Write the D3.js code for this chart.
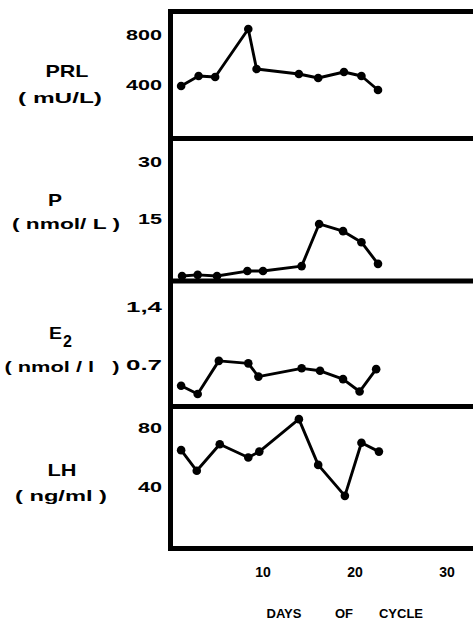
<!DOCTYPE html>
<html>
<head>
<meta charset="utf-8">
<script src="https://cdn.jsdelivr.net/npm/d3@7"></script>
<style>
  body { margin: 0; background: #fff; }
  text { font-family: "Liberation Sans", Arial, sans-serif; fill: #000; }
</style>
</head>
<body>
<div id="chart"></div>
<script>
// days of cycle for each hormone series
var prlDays = [1.1, 3.0, 4.8, 8.4, 9.3, 13.9, 16.0, 18.8, 20.7, 22.5];
var prlValues = [392, 472, 464, 848, 528, 488, 456, 504, 472, 360];

var pDays = [1.2, 2.9, 5.0, 8.3, 10.0, 14.2, 16.1, 18.7, 20.7, 22.5];
var pValues = [0, 0.3, 0, 1.3, 1.3, 2.6, 13.7, 11.8, 8.9, 3.2];

var e2Days = [1.1, 2.9, 5.2, 8.4, 9.5, 14.2, 16.2, 18.7, 20.5, 22.3];
var e2Values = [0.45, 0.35, 0.75, 0.72, 0.56, 0.66, 0.63, 0.53, 0.38, 0.65];

var lhDays = [1.1, 2.8, 5.3, 8.4, 9.6, 13.9, 16.0, 18.9, 20.7, 22.6];
var lhValues = [65, 51, 69, 60, 64, 86, 55, 34, 70, 64];

// tick labels
var dayTicks = [10, 20, 30];
var prlTicks = [400, 800];
var pTicks = [15, 30];
var e2Ticks = [0.7, 1.4];
var e2TickLabels = ["0.7", "1,4"];
var lhTicks = [40, 80];

var width = 473, height = 620;

var svg = d3.select("#chart")
  .append("svg")
  .attr("width", width)
  .attr("height", height);

// shared day axis
var x = d3.scaleLinear().domain([0, 33]).range([171, 474.6]);

// one panel per hormone, stacked
var panels = [
  { days: prlDays, values: prlValues, ticks: prlTicks, labels: prlTicks.map(String),
    y: d3.scaleLinear().domain([0, 800]).range([135, 35]),
    name: "PRL", nameX: 67, nameY: 71, nameW: 43,
    unit: "( mU/L)", unitX: 60, unitY: 98, unitW: 84 },
  { days: pDays, values: pValues, ticks: pTicks, labels: pTicks.map(String),
    y: d3.scaleLinear().domain([0, 30]).range([276, 162]),
    name: "P", nameX: 55, nameY: 200, nameW: 14,
    unit: "( nmol/ L )", unitX: 66, unitY: 224, unitW: 108 },
  { days: e2Days, values: e2Values, ticks: e2Ticks, labels: e2TickLabels,
    y: d3.scaleLinear().domain([0.7, 1.4]).range([365, 307]),
    name: "E", nameX: 49, nameY: 333, nameW: 13,
    unit: "( nmol / l   )", unitX: 62, unitY: 367, unitW: 115 },
  { days: lhDays, values: lhValues, ticks: lhTicks, labels: lhTicks.map(String),
    y: d3.scaleLinear().domain([40, 80]).range([487, 428]),
    name: "LH", nameX: 62, nameY: 470, nameW: 29,
    unit: "( ng/ml )", unitX: 61, unitY: 496, unitW: 92 }
];

// frame: left spine plus panel dividers
var dividers = [11.5, 138.5, 281, 406.5, 548.5];
svg.append("g")
  .selectAll("line")
  .data(dividers)
  .enter().append("line")
    .attr("x1", 168).attr("x2", width)
    .attr("y1", function(d) { return d; })
    .attr("y2", function(d) { return d; })
    .attr("stroke", "#000")
    .attr("stroke-width", 5);
svg.append("line")
  .attr("x1", 170.5).attr("x2", 170.5)
  .attr("y1", 9).attr("y2", 551)
  .attr("stroke", "#000")
  .attr("stroke-width", 5);

panels.forEach(function(p) {
  var pts = p.days.map(function(d, i) { return [d, p.values[i]]; });

  var line = d3.line()
    .x(function(d) { return x(d[0]); })
    .y(function(d) { return p.y(d[1]); });

  svg.append("path")
    .datum(pts)
    .attr("d", line)
    .attr("fill", "none")
    .attr("stroke", "#000")
    .attr("stroke-width", 2.9)
    .attr("stroke-linejoin", "round");

  svg.append("g")
    .selectAll("circle")
    .data(pts)
    .enter().append("circle")
      .attr("cx", function(d) { return x(d[0]); })
      .attr("cy", function(d) { return p.y(d[1]); })
      .attr("r", 4.3)
      .attr("fill", "#000");

  // y tick labels (wide lettering like the original)
  svg.append("g")
    .selectAll("text")
    .data(p.ticks)
    .enter().append("text")
      .attr("x", 162)
      .attr("y", function(d) { return p.y(d); })
      .attr("dy", "0.36em")
      .attr("text-anchor", "end")
      .attr("font-size", 14)
      .attr("font-weight", "bold")
      .attr("textLength", function(d, i) { return p.labels[i].length * 12; })
      .attr("lengthAdjust", "spacingAndGlyphs")
      .text(function(d, i) { return p.labels[i]; });

  // hormone name and unit
  svg.append("text")
    .attr("x", p.nameX)
    .attr("y", p.nameY)
    .attr("dy", "0.36em")
    .attr("text-anchor", p.name == "E" ? "start" : "middle")
    .attr("font-size", 17)
    .attr("font-weight", "bold")
    .attr("textLength", p.nameW)
    .attr("lengthAdjust", "spacingAndGlyphs")
    .text(p.name);
  if (p.name == "E") {
    svg.append("text")
      .attr("x", p.nameX + p.nameW + 1)
      .attr("y", p.nameY + 8)
      .attr("dy", "0.36em")
      .attr("font-size", 16)
      .attr("font-weight", "bold")
      .text("2");
  }

  svg.append("text")
    .attr("x", p.unitX)
    .attr("y", p.unitY)
    .attr("dy", "0.36em")
    .attr("text-anchor", "middle")
    .attr("font-size", 14)
    .attr("font-weight", "bold")
    .attr("textLength", p.unitW)
    .attr("lengthAdjust", "spacingAndGlyphs")
    .style("white-space", "pre")
    .text(p.unit);
});

// day tick labels
svg.append("g")
  .selectAll("text")
  .data(dayTicks)
  .enter().append("text")
    .attr("x", function(d) { return x(d); })
    .attr("y", 572)
    .attr("dy", "0.36em")
    .attr("text-anchor", "middle")
    .attr("font-size", 14)
    .attr("font-weight", "bold")
    .text(function(d) { return d; });

// axis title
var title = svg.append("text")
  .attr("y", 613)
  .attr("dy", "0.36em")
  .attr("text-anchor", "middle")
  .attr("font-size", 13)
  .attr("font-weight", "bold");
title.append("tspan").attr("x", 284).text("DAYS");
title.append("tspan").attr("x", 344).text("OF");
title.append("tspan").attr("x", 401).text("CYCLE");
</script>
</body>
</html>
